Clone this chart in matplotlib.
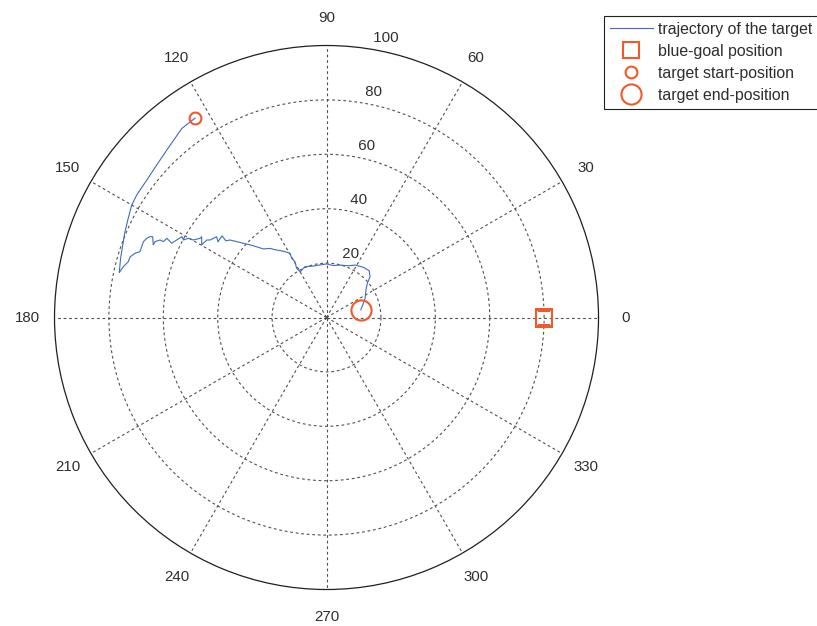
import matplotlib
matplotlib.use('Agg')
import matplotlib.pyplot as plt
import numpy as np

plt.rcParams['font.family'] = ['Liberation Sans', 'DejaVu Sans']

# trajectory of the target (x / y in the polar plane)
traj_x = [-48.3, -50.8, -53.2, -55.7, -58.7, -62.4, -66.1, -69.8, -71.6, -72.9,
          -74.1, -74.9, -75.7, -76.2, -74.7, -72.9, -72.2, -70.4, -68.6, -67.3,
          -66.1, -64.9, -63.9, -63.7, -63.0, -61.2, -60.0, -58.7, -56.9, -55.1,
          -53.2, -52.6, -50.8, -49.0, -46.5, -45.9, -45.9, -45.3, -44.0, -42.8,
          -40.4, -39.9, -39.1, -38.4, -37.0, -35.5, -33.0, -30.6, -28.1, -25.7,
          -23.2, -20.8, -18.3, -15.9, -13.4, -12.8, -11.6, -11.0, -9.7, -7.9,
          -4.9, -2.0, 0.1, 2.5, 5.0, 8.0, 10.5, 13.5, 15.7, 16.0,
          15.0, 14.5, 14.2, 13.3, 12.6]
traj_y = [73.3, 71.4, 69.5, 65.9, 61.6, 56.1, 50.5, 45.0, 41.4, 36.5,
          31.5, 26.7, 21.8, 16.5, 18.7, 20.5, 22.3, 23.6, 24.2, 27.9,
          29.1, 29.7, 29.7, 26.7, 27.9, 28.5, 27.9, 29.1, 27.3, 28.5,
          29.7, 28.5, 29.1, 28.5, 29.1, 29.7, 26.7, 27.3, 28.5, 28.5,
          29.7, 27.8, 29.1, 30.0, 28.2, 28.5, 27.9, 27.3, 26.7, 26.0,
          25.2, 25.4, 24.8, 24.4, 23.6, 21.8, 20.5, 18.1, 16.8, 18.7,
          18.9, 19.4, 19.7, 19.1, 19.3, 19.0, 19.3, 18.5, 17.2, 15.0,
          12.6, 10.1, 7.1, 4.6, 2.8]

goal_r = 80
goal_theta = 0

r_ticks = [20, 40, 60, 80, 100]
theta_ticks = list(range(0, 360, 30))

orange = '#ef5a28'
blue = '#3d6cc0'
txt = '#2e2e2e'

theta = np.arctan2(traj_y, traj_x)
rho = np.hypot(traj_x, traj_y)

fig = plt.figure(figsize=(8.17, 6.26), dpi=100)
ax = fig.add_axes([0.0667, 0.0583, 0.6659, 0.869], projection='polar')
ax.set_ylim(0, 100)

# dashed MATLAB-like grid
ax.set_rgrids(r_ticks[:-1], labels=[''] * 4)
ax.set_thetagrids(theta_ticks, labels=[''] * len(theta_ticks))
ax.grid(True, color='#505050', linestyle=(0, (2.5, 2.5)), linewidth=0.8)
ax.spines['polar'].set_color('#202020')
ax.spines['polar'].set_linewidth(0.9)

# tick labels placed like MATLAB polar()
for r in r_ticks:
    ax.text(np.deg2rad(82), r + 1, '  ' + str(r), ha='left', va='bottom',
            fontsize=10.8, color=txt)
for t in theta_ticks:
    ax.text(np.deg2rad(t), 110, str(t), ha='center', va='center',
            fontsize=10.8, color=txt, clip_on=False)

ax.plot(theta, rho, color=blue, linewidth=0.8, label='trajectory of the target')
ax.plot(np.deg2rad(goal_theta), goal_r, 's', ms=11.5, mfc='none', mec=orange,
        mew=1.5, label='blue-goal position')
ax.plot(theta[0], rho[0], 'o', ms=8.5, mfc='none', mec=orange, mew=1.5,
        label='target start-position')
ax.plot(theta[-1], rho[-1], 'o', ms=14.5, mfc='none', mec=orange, mew=1.5,
        label='target end-position')

leg = fig.legend(loc='upper left', bbox_to_anchor=(604 / 817, 1 - 16 / 626),
                 fontsize=11.4, frameon=True, fancybox=False, edgecolor='#202020',
                 framealpha=1, handlelength=2.7, handletextpad=0.33,
                 labelspacing=0.44, borderpad=0.38, borderaxespad=0)
leg.get_frame().set_linewidth(0.8)
for t in leg.get_texts():
    t.set_color(txt)

fig.savefig('out.png', dpi=100)
